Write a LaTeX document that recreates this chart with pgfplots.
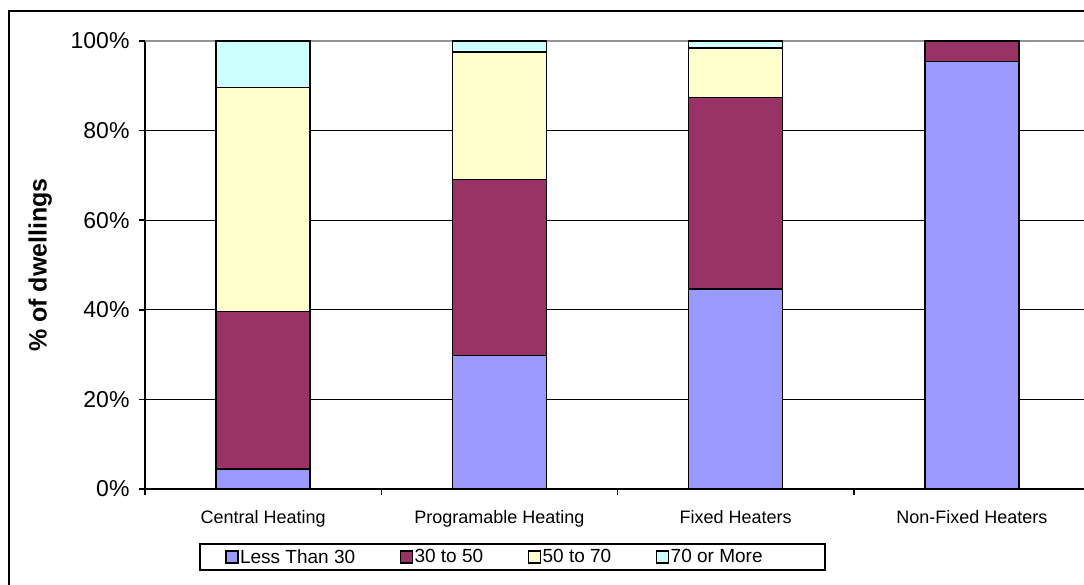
\documentclass[border=0pt]{standalone}
\usepackage{pgfplots}
\pgfplotsset{compat=1.18}
\usepackage{fontspec}
\setmainfont{Liberation Sans}

\definecolor{lt30}{HTML}{9999FF}
\definecolor{t3050}{HTML}{993366}
\definecolor{t5070}{HTML}{FFFFCC}
\definecolor{ge70}{HTML}{CCFFFF}

\begin{document}
\begin{tikzpicture}[x=1bp,y=1bp]
\useasboundingbox (0,0) rectangle (1084,585);
\fill[white] (0,0) rectangle (1084,585);
\clip (0,0) rectangle (1084,585);
% chart frame
\draw[line width=2bp] (9,574) rectangle (1120,-20);
\begin{axis}[
  at={(145bp,96bp)}, anchor=south west,
  scale only axis, width=945bp, height=448bp,
  xmin=-0.5, xmax=3.5, ymin=0, ymax=100,
  clip=false,
  axis lines*=left,
  axis line style={line width=1.5bp, black},
  ybar stacked, bar width=94bp,
  /pgf/number format/assume math mode=true,
  ytick={0,20,40,60,80},
  extra y ticks={100},
  extra y tick style={grid style={gray!85, line width=1.8bp}},
  yticklabel={\pgfmathprintnumber{\tick}\%},
  yticklabel style={font=\fontsize{23bp}{27bp}\selectfont, xshift=-6bp},
  ymajorgrids,
  grid style={black, line width=1.3bp},
  tick align=outside, major tick length=6bp,
  tick style={black, line width=1.5bp},
  xtick={-0.5,0.5,1.5,2.5,3.5}, xticklabels={},
  extra x ticks={0,1,2,3},
  extra x tick labels={Central Heating, Programable Heating, Fixed Heaters, Non-Fixed Heaters},
  extra x tick style={major tick length=0bp,
    xticklabel style={font=\fontsize{18bp}{22bp}\selectfont, yshift=-18bp}},
  ylabel={\% of dwellings},
  ylabel style={at={(axis description cs:-0.111,0.5)}, anchor=center,
    font=\fontsize{25bp}{29bp}\selectfont\bfseries},
  legend columns=4,
  legend image code/.code={\draw[#1, draw=black, line width=1.4bp] (0bp,-6bp) rectangle (12bp,6bp);},
  legend style={at={(0.389,-0.152)}, anchor=center, draw=black, line width=1.6bp,
    font=\fontsize{19bp}{23bp}\selectfont, inner xsep=25bp, inner ysep=4bp,
    nodes={inner sep=1.5bp},
    /tikz/every even column/.append style={column sep=43bp}},
]
\addplot[fill=lt30, draw=black, line width=1.6bp]
  coordinates {(0,4.4) (1,29.8) (2,44.6) (3,95.4)};
\addplot[fill=t3050, draw=black, line width=1.6bp]
  coordinates {(0,35.2) (1,39.3) (2,42.8) (3,4.6)};
\addplot[fill=t5070, draw=black, line width=1.6bp]
  coordinates {(0,50.0) (1,28.5) (2,11.1) (3,0)};
\addplot[fill=ge70, draw=black, line width=1.6bp]
  coordinates {(0,10.4) (1,2.4) (2,1.5) (3,0)};
\legend{Less Than 30, 30 to 50, 50 to 70, 70 or More\hspace*{36bp}}
\end{axis}
\end{tikzpicture}
\end{document}
